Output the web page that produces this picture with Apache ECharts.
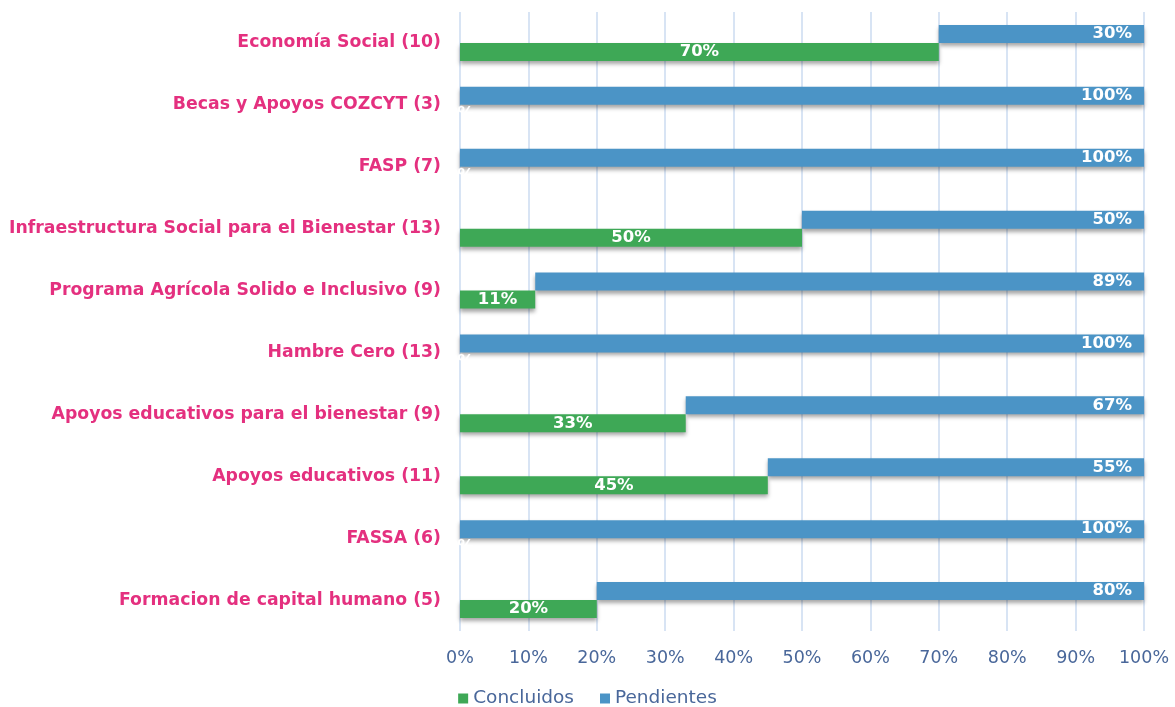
<!DOCTYPE html>
<html>
<head>
    <meta charset="UTF-8">
    <title>avance</title>
    <script src="https://cdn.jsdelivr.net/npm/echarts@6/dist/echarts.min.js"></script>
    <style>
        *{margin:0;padding:0}
        html, body{ width:100%; height:100%; background:#fff; }
        #main{ width:1175px; height:707px; }
    </style>
</head>
<body>
    <div id="main"></div>
    <script type="text/javascript">
        // de abajo hacia arriba
        var programas = [
            'Formacion de capital humano (5)',
            'FASSA (6)',
            'Apoyos educativos (11)',
            'Apoyos educativos para el bienestar (9)',
            'Hambre Cero (13)',
            'Programa Agrícola Solido e Inclusivo (9)',
            'Infraestructura Social para el Bienestar (13)',
            'FASP (7)',
            'Becas y Apoyos COZCYT (3)',
            'Economía Social (10)'
        ];
        var concluidos = [20, 0, 45, 33, 0, 11, 50, 0, 0, 70];
        var pendientes = [80, 100, 55, 67, 100, 89, 50, 100, 100, 30];
        var ticks = ['0%', '10%', '20%', '30%', '40%', '50%', '60%', '70%', '80%', '90%', '100%'];

        var verde = '#3ea856';
        var azul = '#4b94c6';
        var sombra = {shadowColor: 'rgba(0,0,0,0.35)', shadowBlur: 4, shadowOffsetY: 3};
        var fuente = 'DejaVu Sans';

        var etiqueta = {
            show: true,
            color: '#fff',
            fontWeight: 'bold',
            fontSize: 16.5,
            fontFamily: fuente,
            formatter: '{c}%'
        };

        var myChart = echarts.init(document.getElementById('main'));
        var option = {
            animation: false,
            textStyle: { fontFamily: fuente },
            grid: { left: 460, right: 31, top: 12, bottom: 76 },
            legend: {
                bottom: -6,
                left: 'center',
                itemWidth: 10,
                itemHeight: 10,
                itemGap: 26,
                itemStyle: { shadowBlur: 0, shadowOffsetY: 0 },
                icon: 'rect',
                data: ['Concluidos', 'Pendientes'],
                textStyle: { color: '#49679a', fontSize: 18.5, fontFamily: fuente }
            },
            xAxis: {
                type: 'value',
                min: 0,
                max: 100,
                interval: 10,
                axisLine: { show: false },
                axisTick: { show: false },
                splitLine: { lineStyle: { color: '#d8e4f4', width: 2 } },
                axisLabel: {
                    margin: 18,
                    color: '#49679a',
                    fontSize: 17.5,
                    formatter: function (v) { return ticks[v / 10]; }
                }
            },
            yAxis: {
                type: 'category',
                data: programas,
                axisLine: { show: false },
                axisTick: { show: false },
                axisLabel: {
                    margin: 19,
                    color: '#e4307f',
                    fontWeight: 'bold',
                    fontSize: 17.3
                }
            },
            series: [
                {
                    name: 'base',
                    type: 'bar',
                    stack: 'p',
                    barWidth: 18,
                    barGap: '0%',
                    data: concluidos,
                    itemStyle: { color: 'transparent' },
                    silent: true
                },
                {
                    name: 'Pendientes',
                    type: 'bar',
                    stack: 'p',
                    barWidth: 18,
                    data: pendientes,
                    itemStyle: Object.assign({ color: azul }, sombra),
                    label: Object.assign({ position: 'insideRight', distance: 12 }, etiqueta)
                },
                {
                    name: 'Concluidos',
                    type: 'bar',
                    stack: 'c',
                    barWidth: 18,
                    barGap: '0%',
                    data: concluidos,
                    itemStyle: Object.assign({ color: verde }, sombra),
                    label: Object.assign({ position: 'inside' }, etiqueta)
                }
            ]
        };
        myChart.setOption(option);
    </script>
</body>
</html>
